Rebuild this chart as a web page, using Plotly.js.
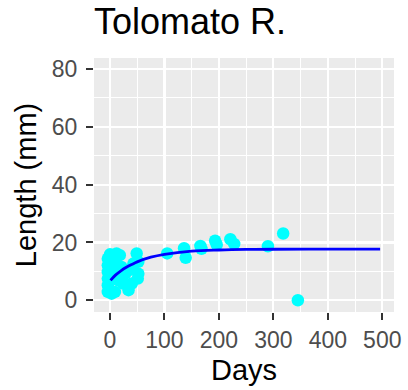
<!DOCTYPE html>
<html>
<head>
<meta charset="utf-8">
<script src="https://cdn.plot.ly/plotly-3.0.1.min.js"></script>
<style>html,body{margin:0;padding:0;background:#fff;}#chart{width:408px;height:390px;}</style>
</head>
<body>
<div id="chart"></div>
<script>
// Observed fish lengths (days since start, length in mm)
var obsDays = [-4, -4, -4, -4, -4, -4, 0, 12, 18, 49, 52, 52, 51, 34, 40, 9, 3, 9, 21, 28, 15, 34, 24, 9, 43,
               105, 136, 139, 166, 168, 193, 196, 221, 228, 290, 318, 345];
var obsLength = [14.4, 12.1, 9.8, 7.5, 5.2, 2.9, 15.9, 16.2, 15.6, 16.2, 13.3, 9.2, 7.5, 3.5, 5.8, 2.9, 2.3, 12.7, 11.5, 9.2, 6.9, 10.4, 5.8, 9.2, 12.7,
                 16.2, 18.0, 14.7, 18.8, 17.8, 20.6, 19.2, 21.1, 19.5, 18.7, 23.1, 0.0];
// Fitted growth curve
var fitDays = [1, 10, 20, 30, 40, 50, 75, 100, 150, 200, 250, 300, 400, 496];
var fitLength = [6.9, 8.7, 10.2, 11.4, 12.4, 13.3, 14.9, 15.9, 17.0, 17.4, 17.6, 17.65, 17.7, 17.7];
var xTicks = [0, 100, 200, 300, 400, 500];
var yTicks = [0, 20, 40, 60, 80];

var traces = [
  {x: obsDays, y: obsLength, type: 'scatter', mode: 'markers',
   marker: {color: '#00FFFF', size: 12.5, line: {width: 0}}, hoverinfo: 'x+y'},
  {x: fitDays, y: fitLength, type: 'scatter', mode: 'lines',
   line: {color: '#0000FF', width: 2.8, shape: 'spline'}, hoverinfo: 'x+y'}
];

var axisCommon = {
  showline: false, zeroline: false, showgrid: true,
  gridcolor: '#FFFFFF', gridwidth: 2.2,
  ticks: 'outside', ticklen: 7, tickwidth: 2, tickcolor: '#333333',
  tickfont: {family: 'Liberation Sans, Arial, sans-serif', size: 23, color: '#4D4D4D'},
  tickmode: 'array'
};

var layout = {
  width: 408, height: 390,
  margin: {l: 94, r: 14, t: 58, b: 78, pad: 0},
  paper_bgcolor: '#FFFFFF', plot_bgcolor: '#EBEBEB',
  showlegend: false,
  title: {text: 'Tolomato R.', x: 0, xref: 'paper', xanchor: 'left',
          y: 1 - 34/390, yref: 'container', yanchor: 'bottom',
          font: {family: 'Liberation Sans, Arial, sans-serif', size: 36, color: '#000000'}},
  xaxis: Object.assign({}, axisCommon, {
    range: [-29.4, 521.5], tickvals: xTicks, ticktext: xTicks.map(String),
    minor: {tickvals: [-50, 50, 150, 250, 350, 450], showgrid: true, gridcolor: '#FFFFFF', gridwidth: 1.1, ticks: ''},
    title: {text: 'Days', standoff: 8,
            font: {family: 'Liberation Sans, Arial, sans-serif', size: 29, color: '#000000'}}
  }),
  yaxis: Object.assign({}, axisCommon, {
    range: [-4.05, 83.8], tickvals: yTicks, ticktext: yTicks.map(String),
    minor: {tickvals: [10, 30, 50, 70], showgrid: true, gridcolor: '#FFFFFF', gridwidth: 1.1, ticks: ''},
    ticklabelstandoff: 4,
    title: {text: 'Length (mm)', standoff: 6,
            font: {family: 'Liberation Sans, Arial, sans-serif', size: 29, color: '#000000'}}
  })
};

Plotly.newPlot('chart', traces, layout, {displayModeBar: false, staticPlot: true});
</script>
</body>
</html>
